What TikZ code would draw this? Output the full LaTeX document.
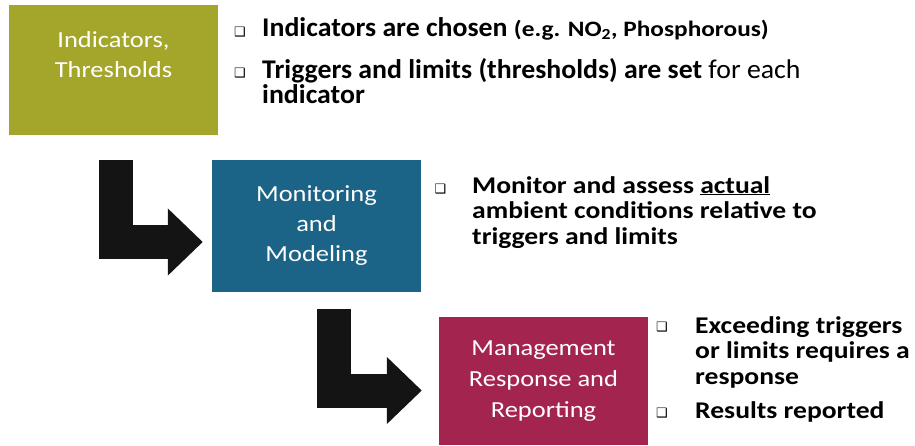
\documentclass[tikz,border=0pt]{standalone}
\usepackage{fontspec}
\setmainfont{Carlito}[FakeStretch=1.15]
\newfontfamily\plainfont{Carlito}[FakeStretch=1.03]
\newfontfamily\symfont{DejaVu Sans}
\usetikzlibrary{positioning,arrows.meta}
\definecolor{olivebox}{HTML}{A4A62C}
\definecolor{tealbox}{HTML}{1B6387}
\definecolor{winebox}{HTML}{A2244F}
\newcommand{\stagefont}{\fontsize{23}{30}\selectfont}
\newcommand{\bigitem}{\plainfont\fontsize{27}{25}\selectfont\bfseries}
\newcommand{\smallitem}{\fontsize{24}{25.5}\selectfont\bfseries}
\tikzset{
  stage/.style  = {rectangle, fill=#1, minimum width=209pt, inner sep=0pt,
                   text=white, align=center, font=\stagefont},
  bul/.style    = {inner sep=0pt, font=\symfont\fontsize{13}{13}\selectfont},
  item/.style   = {inner sep=0pt, anchor=base west, align=left},
  elbow/.style  = {line width=34pt, draw=black!92, -{Triangle[length=35pt,width=65pt]}},
}
\begin{document}
\begin{tikzpicture}[x=1pt, y=-1pt]
  \useasboundingbox (0,0) rectangle (915,445);
  \node[stage=olivebox, minimum height=130pt] (ind) at (113.5,70) {Indicators,\\Thresholds\\ ~};
  \node[stage=tealbox, minimum height=132pt] (mon) at (316.5,226) {Monitoring\\and\\Modeling};
  \node[stage=winebox, minimum height=128pt, font=\fontsize{23}{31}\selectfont] (mgmt) at (543.5,381)
    {Management\\Response and\\Reporting};

  % bullets sit on the last baseline of each item
  \node[bul] (q1) at (240,32) {❑};
  \node[item, font=\bigitem] (t1) at (262,36)
    {Indicators are chosen {\rmfamily\bfseries\fontsize{22}{25}\selectfont (e.g. NO\textsubscript{2}, Phosphorous)}};
  \node[bul] (q2) at (240,73) {❑};
  \node[item, font=\bigitem] (t2) at (262,103)
    {Triggers and limits (thresholds) are set {\mdseries for each}\\indicator};

  \node[bul] (q3) at (440.5,189.5) {❑};
  \node[item, font=\smallitem] (t3) at (472,244)
    {Monitor and assess \underline{actual}\\ambient conditions relative to\\triggers and limits};

  \node[bul] (q4) at (662,327.5) {❑};
  \node[item, font=\smallitem] (t4) at (695,384)
    {Exceeding triggers\\or limits requires a\\response};
  \node[bul] (q5) at (662,413.5) {❑};
  \node[item, font=\smallitem] (t5) at (695,418) {Results reported};

  \coordinate (a1) at (115.5,160);
  \coordinate (a2) at (334,309);
  \draw[elbow] (a1) |- ([xshift=-9pt, yshift=-16pt]mon.west);
  \draw[elbow] (a2) |- ([xshift=-17pt, yshift=-9.5pt]mgmt.west);
\end{tikzpicture}
\end{document}
